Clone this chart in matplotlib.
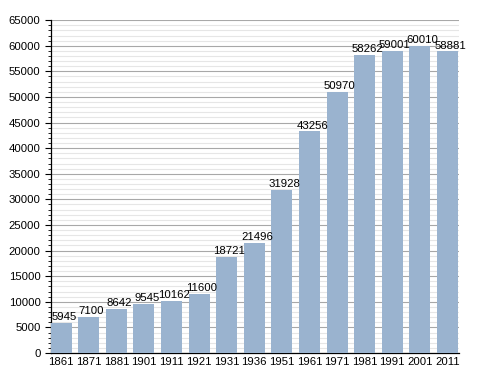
import matplotlib
matplotlib.use("Agg")
import matplotlib.pyplot as plt
from matplotlib.ticker import MultipleLocator

years = ["1861", "1871", "1881", "1901", "1911", "1921", "1931", "1936",
         "1951", "1961", "1971", "1981", "1991", "2001", "2011"]
population = [5945, 7100, 8642, 9545, 10162, 11600, 18721, 21496,
              31928, 43256, 50970, 58262, 59001, 60010, 58881]

plt.rcParams["font.family"] = ["Liberation Sans", "DejaVu Sans"]

fig = plt.figure(figsize=(4.88, 3.73), dpi=100)
ax = fig.add_axes([0.1045, 0.0536, 0.836, 0.8924])

x = list(range(len(years)))
ax.bar(x, population, width=0.76, color="#9ab3cf", zorder=3)
for xi, v in zip(x, population):
    ax.text(xi + 0.1, v + 150, str(v), ha="center", va="bottom", fontsize=8.2, zorder=4)

ax.set_xlim(-0.37, 14.42)
ax.set_ylim(0, 65000)
ax.set_xticks(x)
ax.set_xticklabels(years)
ax.yaxis.set_major_locator(MultipleLocator(5000))
ax.yaxis.set_minor_locator(MultipleLocator(1000))
ax.grid(axis="y", which="major", color="#a8a8a8", linewidth=0.8, zorder=0)
ax.grid(axis="y", which="minor", color="#e6e6e6", linewidth=0.8, zorder=0)
ax.tick_params(axis="both", labelsize=8.2)
ax.tick_params(axis="x", length=0, pad=3)
ax.tick_params(axis="y", which="major", length=4, width=0.8)
ax.tick_params(axis="y", which="minor", length=2, width=0.6)
for side in ["top", "right"]:
    ax.spines[side].set_visible(False)
ax.spines["left"].set_linewidth(0.9)
ax.spines["bottom"].set_linewidth(0.9)

fig.savefig("out.png", dpi=100)
